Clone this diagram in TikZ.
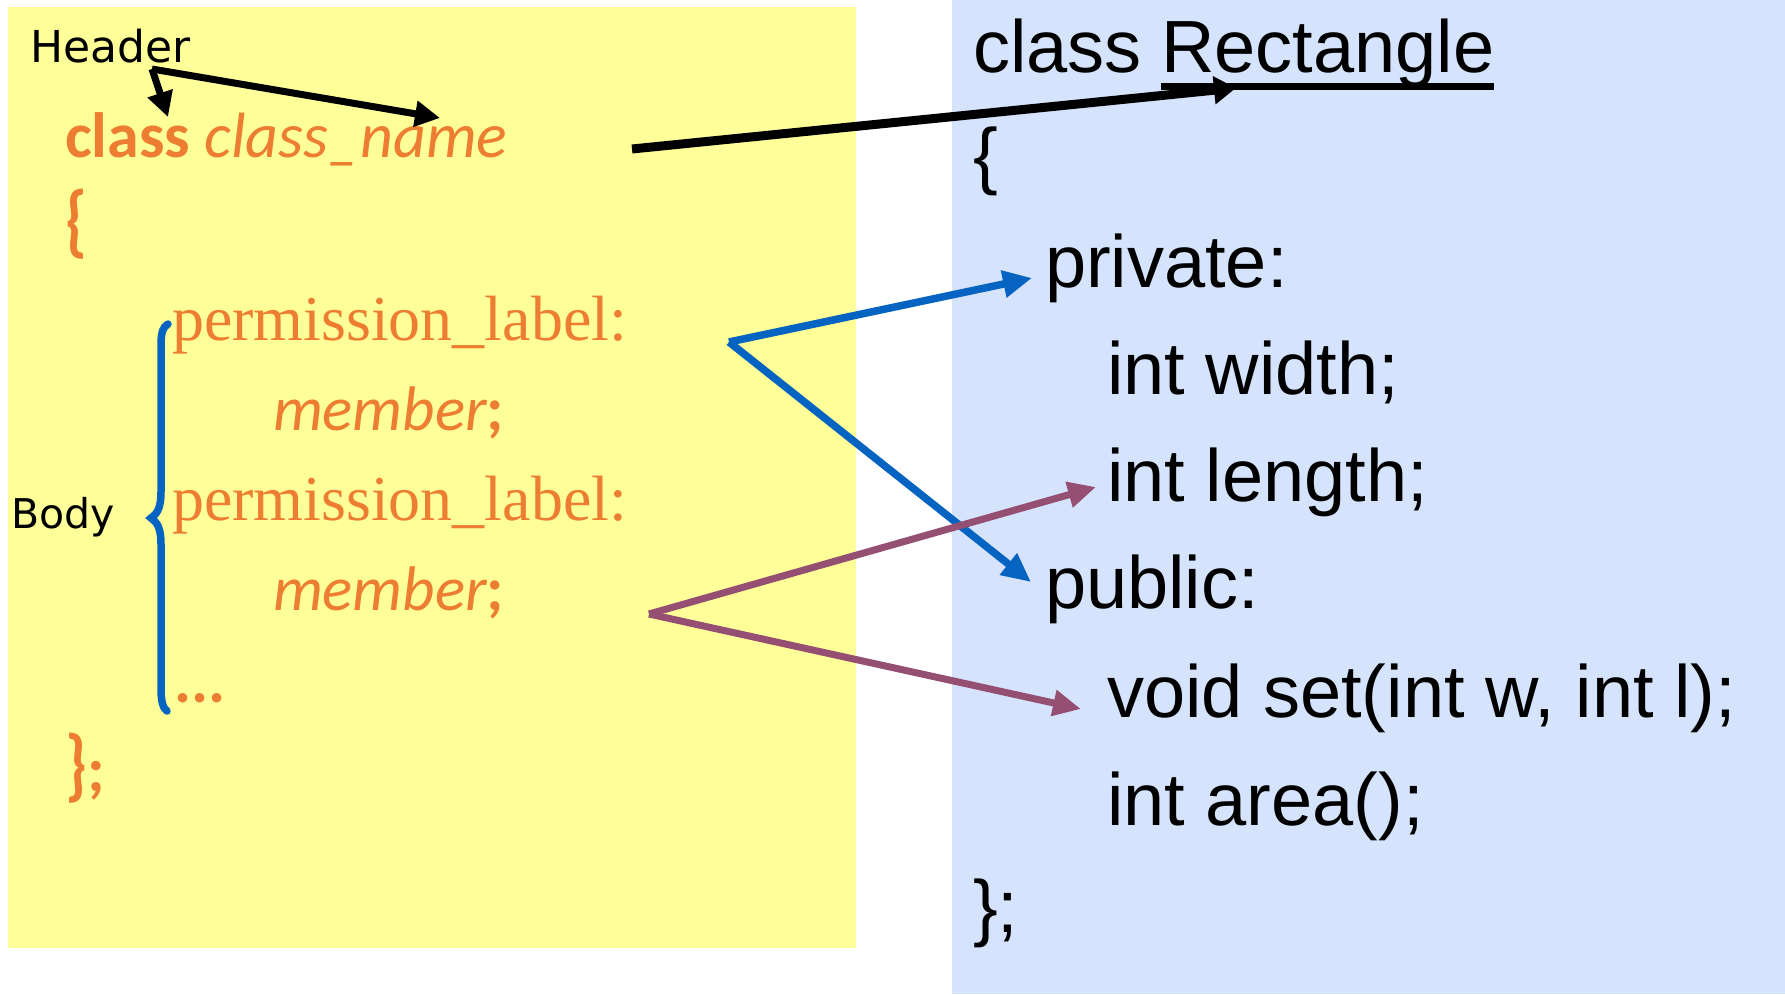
\documentclass[tikz,border=0pt]{standalone}
\usepackage{fontspec}
\setmainfont{Liberation Sans}
\newfontfamily\calib{Carlito}
\newfontfamily\tnr{Liberation Serif}
\newfontfamily\hnd{DejaVu Sans}
\usetikzlibrary{arrows.meta}
\definecolor{orng}{HTML}{ED7D31}
\definecolor{ylw}{HTML}{FFFF99}
\definecolor{lblue}{HTML}{D6E3FC}
\definecolor{lnkblue}{HTML}{0563C1}
\definecolor{lnkpurple}{HTML}{954F72}
\begin{document}
\begin{tikzpicture}[x=1pt,y=-1pt,
  txt/.style={anchor=base west, inner sep=0pt, outer sep=0pt},
  code/.style={txt, font=\fontsize{74}{80}\selectfont},
  cal/.style={txt, text=orng, font=\calib\fontsize{64}{70}\selectfont},
  calb/.style={txt, text=orng, font=\calib\bfseries\fontsize{64}{70}\selectfont},
  cali/.style={txt, text=orng, font=\calib\itshape\fontsize{63}{70}\selectfont},
  tms/.style={txt, text=orng, font=\tnr\fontsize{64}{70}\selectfont},
  hand/.style={txt, font=\hnd\fontsize{44}{48}\selectfont},
  blkarrow/.style={line width=7pt, -{Triangle[length=25pt,width=25pt]}},
  bigarrow/.style={line width=9pt, -{Triangle[length=22pt,width=27pt]}},
  bluearrow/.style={draw=lnkblue, line width=7.5pt, -{Triangle[length=29pt,width=26pt]}},
  purparrow/.style={draw=lnkpurple, line width=7pt, -{Triangle[length=28pt,width=25pt]}}
]
\useasboundingbox (0,0) rectangle (1785,994);
% backgrounds
\fill[ylw] (8,7) rectangle (856,948);
\fill[lblue] (952,0) rectangle (1785,994);

% left side
\node[hand] (header) at (30,62) {Header};
\node[hand, font=\hnd\fontsize{41}{48}\selectfont] (body) at (11,528) {Body};
\node[cal] (clsname) at (65,157) {{\bfseries class} \itshape class\_name};
\node[calb] (lbrace) at (65,247) {\scalebox{1}[1.25]{\{}};
\node[tms] (perm1) at (172,340) {permission\_label:};
\node[cali] (mem1) at (273,430) {member{\upshape\bfseries;}};
\node[tms] (perm2) at (172,520) {permission\_label:};
\node[cali] (mem2) at (273,610) {member{\upshape\bfseries;}};
\node[calb] (dots) at (174,702) {...};
\node[calb] (rbrace) at (65,791) {\scalebox{1}[1.25]{\}};};

% blue brace
\draw[lnkblue, line width=7.5pt, line cap=round]
  (168,324) .. controls (163,327) and (161,332) .. (161,345)
  -- (161,492) .. controls (161,508) and (157,514) .. (151,518)
  .. controls (157,522) and (161,528) .. (161,544)
  -- (161,688) .. controls (161,702) and (163,708) .. (167,711);

% right side
\node[code] (cls) at (973,72) {class};
\node[code] (rect) at (1161,72) {Rectangle};
\draw[line width=7pt] ([yshift=-14pt]rect.base west) -- ([yshift=-14pt]rect.base east);
\node[code] (ob) at (973,180) {\{};
\node[code] (priv) at (1045,287) {private:};
\node[code] (iw) at (1107,394) {int width;};
\node[code] (il) at (1107,501) {int length;};
\node[code] (pub) at (1045,608) {public:};
\node[code] (vs) at (1107,717) {void set(int w, int l);};
\node[code] (ia) at (1107,825) {int area();};
\node[code] (cb) at (973,932) {\};};

% connector points
\coordinate (hc) at (152,69);
\coordinate (hclass) at (168,117);
\coordinate (hname) at (440,118);
\coordinate (cnstart) at (632,149);
\coordinate (cnend) at (1236,88);
\coordinate (bo) at (729,342);
\coordinate (bpriv) at (1032,278);
\coordinate (bpub) at (1031,582);
\coordinate (po) at (649,614);
\coordinate (plen) at (1096,487);
\coordinate (pset) at (1081,709);

\draw[blkarrow] (hc) -- (hclass);
\draw[blkarrow] (hc) -- (hname);
\draw[bigarrow] (cnstart) -- (cnend);
\draw[bluearrow] (bo) -- (bpriv);
\draw[bluearrow] (bo) -- (bpub);
\draw[purparrow] (po) -- (plen);
\draw[purparrow] (po) -- (pset);
\end{tikzpicture}
\end{document}
